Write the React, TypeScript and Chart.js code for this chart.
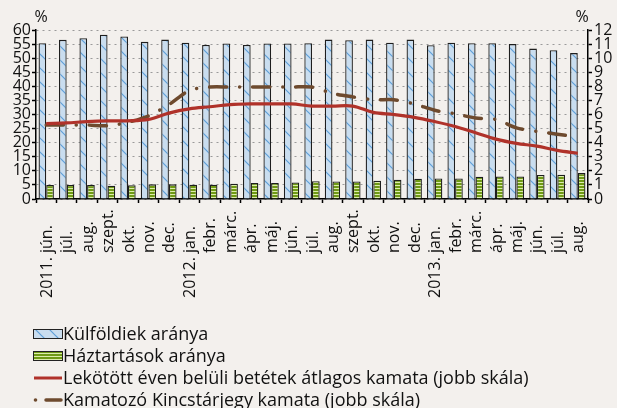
import React, { useEffect, useRef } from 'react';
import { Chart, registerables } from 'chart.js';

Chart.register(...registerables);

const categories = [
  '2011. jún.', 'júl.', 'aug.', 'szept.', 'okt.', 'nov.', 'dec.',
  '2012. jan.', 'febr.', 'márc.', 'ápr.', 'máj.', 'jún.', 'júl.', 'aug.', 'szept.', 'okt.', 'nov.', 'dec.',
  '2013. jan.', 'febr.', 'márc.', 'ápr.', 'máj.', 'jún.', 'júl.', 'aug.',
];

const foreignShare = [55.3, 56.5, 57.1, 58.3, 57.7, 55.8, 56.6, 55.5, 54.7, 55.2, 54.7, 55.2, 55.2, 55.3, 56.6, 56.4, 56.6, 55.5, 56.6, 54.6, 55.5, 55.3, 55.3, 55.0, 53.4, 52.8, 51.8];
const householdShare = [5.0, 5.0, 5.0, 4.7, 4.9, 5.2, 5.2, 5.1, 5.1, 5.4, 5.7, 5.7, 5.9, 6.3, 6.25, 6.25, 6.5, 6.8, 7.2, 7.3, 7.3, 7.9, 8.0, 8.0, 8.5, 8.6, 9.2];
const depositRate = [5.35, 5.4, 5.5, 5.55, 5.55, 5.65, 6.1, 6.4, 6.55, 6.7, 6.75, 6.75, 6.75, 6.6, 6.6, 6.6, 6.15, 6.0, 5.8, 5.5, 5.15, 4.7, 4.25, 3.95, 3.75, 3.45, 3.25];
const tbillRate = [5.25, 5.25, 5.25, 5.2, 5.45, 5.9, 6.7, 7.7, 7.95, 7.95, 7.95, 7.95, 7.95, 7.95, 7.5, 7.25, 7.05, 7.05, 6.75, 6.3, 6.05, 5.75, 5.65, 5.05, 4.8, 4.6, 4.4];

const seriesNames = [
  'Külföldiek aránya',
  'Háztartások aránya',
  'Lekötött éven belüli betétek átlagos kamata (jobb skála)',
  'Kamatozó Kincstárjegy kamata (jobb skála)',
];

const unitLabel = '%';

const FONT = '"Open Sans", "Noto Sans", sans-serif';
const BG = '#f3f0ed';
const RED = '#b0322a';
const BROWN = '#6e4a2e';

function bluePattern(ctx: CanvasRenderingContext2D): CanvasPattern | string {
  const c = document.createElement('canvas');
  c.width = 14;
  c.height = 14;
  const g = c.getContext('2d');
  if (!g) return '#c9ddef';
  g.fillStyle = '#c9ddef';
  g.fillRect(0, 0, 14, 14);
  g.strokeStyle = '#5e9fd8';
  g.lineWidth = 1.2;
  g.beginPath();
  g.moveTo(-2, -2);
  g.lineTo(16, 16);
  g.moveTo(-16, -2);
  g.lineTo(2, 16);
  g.moveTo(12, -2);
  g.lineTo(30, 16);
  g.stroke();
  return ctx.createPattern(c, 'repeat') || '#c9ddef';
}

function greenPattern(ctx: CanvasRenderingContext2D): CanvasPattern | string {
  const c = document.createElement('canvas');
  c.width = 4;
  c.height = 3;
  const g = c.getContext('2d');
  if (!g) return '#7aa31e';
  g.fillStyle = '#6f9a14';
  g.fillRect(0, 0, 4, 2);
  g.fillStyle = '#dcedaa';
  g.fillRect(0, 2, 4, 1);
  return ctx.createPattern(c, 'repeat') || '#7aa31e';
}

export default function App() {
  const ref = useRef<HTMLCanvasElement | null>(null);

  useEffect(() => {
    document.body.style.margin = '0';
    document.body.style.background = BG;
    const canvas = ref.current;
    if (!canvas) return;
    const ctx = canvas.getContext('2d');
    if (!ctx) return;
    const blue = bluePattern(ctx);
    const green = greenPattern(ctx);

    const extras = {
      id: 'extras',
      afterDraw(chart: any) {
        const c = chart.ctx as CanvasRenderingContext2D;
        const area = chart.chartArea;
        const xs = chart.scales.x;
        c.save();
        c.fillStyle = '#111';
        c.font = `16px ${FONT}`;
        c.textBaseline = 'middle';
        c.textAlign = 'center';
        c.fillText(unitLabel, area.left + 5, 17);
        c.fillText(unitLabel, area.right - 6, 17);

        // category labels (rotated, month part starting at a common line)
        c.font = `16px ${FONT}`;
        const startY = 253;
        categories.forEach((lab, i) => {
          const x = xs.getPixelForValue(i);
          const parts = lab.split(' ');
          const month = parts[parts.length - 1];
          const prefix = parts.length > 1 ? parts.slice(0, -1).join(' ') + ' ' : '';
          c.save();
          c.translate(x + 1, startY);
          c.rotate(-Math.PI / 2);
          c.textBaseline = 'middle';
          c.textAlign = 'left';
          c.fillText(month, 0, 0);
          if (prefix) {
            c.textAlign = 'right';
            c.fillText(prefix, 0, 0);
          }
          c.restore();
        });

        // legend
        const x0 = 33;
        const rows = [334, 356, 378, 400];
        c.fillStyle = blue as any;
        c.fillRect(x0, rows[0] - 4.5, 29, 9);
        c.strokeStyle = '#222';
        c.lineWidth = 1;
        c.strokeRect(x0 + 0.5, rows[0] - 4.5, 29, 9);
        c.fillStyle = green as any;
        c.fillRect(x0, rows[1] - 4.5, 29, 9);
        c.strokeRect(x0 + 0.5, rows[1] - 4.5, 29, 9);
        c.strokeStyle = RED;
        c.lineWidth = 3;
        c.beginPath();
        c.moveTo(x0 + 1, rows[2]);
        c.lineTo(x0 + 29, rows[2]);
        c.stroke();
        c.fillStyle = BROWN;
        c.beginPath();
        c.arc(x0 + 2.5, rows[3], 1.8, 0, Math.PI * 2);
        c.fill();
        c.strokeStyle = BROWN;
        c.lineWidth = 3.5;
        c.lineCap = 'round';
        c.beginPath();
        c.moveTo(x0 + 13, rows[3]);
        c.lineTo(x0 + 28, rows[3]);
        c.stroke();

        c.fillStyle = '#111';
        c.font = `18px ${FONT}`;
        c.textAlign = 'left';
        c.textBaseline = 'middle';
        seriesNames.forEach((name, i) => {
          c.fillText(name, x0 + 30, rows[i] + 1);
        });
        c.restore();
      },
    };

    const chart = new Chart(ctx, {
      type: 'bar',
      data: {
        labels: categories,
        datasets: [
          {
            type: 'line',
            label: seriesNames[2],
            data: depositRate,
            yAxisID: 'y1',
            borderColor: RED,
            borderWidth: 3.2,
            pointRadius: 0,
            tension: 0.35,
            fill: false,
            order: 0,
          },
          {
            type: 'line',
            label: seriesNames[3],
            data: tbillRate,
            yAxisID: 'y1',
            borderColor: BROWN,
            borderWidth: 3.5,
            borderDash: [17, 13, 0.1, 13],
            borderCapStyle: 'round',
            pointRadius: 0,
            tension: 0.3,
            fill: false,
            order: 0,
          },
          {
            type: 'bar',
            label: seriesNames[0],
            data: foreignShare,
            yAxisID: 'y',
            backgroundColor: blue as any,
            borderColor: '#1e1e1e',
            borderWidth: 1.3,
            categoryPercentage: 0.75,
            barPercentage: 1,
            order: 1,
          },
          {
            type: 'bar',
            label: seriesNames[1],
            data: householdShare,
            yAxisID: 'y',
            backgroundColor: green as any,
            borderColor: '#1e1e1e',
            borderWidth: 1.3,
            categoryPercentage: 0.75,
            barPercentage: 1,
            order: 1,
          },
        ] as any,
      },
      options: {
        responsive: false,
        animation: false,
        devicePixelRatio: 1,
        layout: { padding: { top: 30, left: 0, right: 0, bottom: 0 } },
        plugins: {
          legend: { display: false },
          tooltip: { enabled: false },
          title: { display: false },
        },
        scales: {
          x: {
            offset: true,
            grid: {
              offset: true,
              drawOnChartArea: false,
              drawTicks: true,
              tickLength: 4,
              tickColor: '#000',
              tickWidth: 1.5,
            },
            border: { color: '#000', width: 1.5 },
            ticks: {
              display: false,
              autoSkip: false,
              maxRotation: 0,
              minRotation: 0,
            },
            afterFit: (s: any) => {
              s.height = 209;
            },
          },
          y: {
            position: 'left',
            min: 0,
            max: 60,
            ticks: {
              stepSize: 5,
              autoSkip: false,
              padding: 1,
              color: '#111',
              font: { family: FONT, size: 16 },
            },
            grid: {
              color: '#9a9a9a',
              lineWidth: 1,
              drawTicks: true,
              tickLength: 4,
              tickColor: '#000',
              tickWidth: 1.5,
            },
            border: { color: '#000', width: 1.5, dash: [2, 4] },
            afterFit: (s: any) => {
              s.width = 36;
            },
          },
          y1: {
            position: 'right',
            min: 0,
            max: 12,
            ticks: {
              stepSize: 1,
              autoSkip: false,
              padding: 2,
              color: '#111',
              font: { family: FONT, size: 16 },
            },
            grid: {
              drawOnChartArea: false,
              drawTicks: true,
              tickLength: 4,
              tickColor: '#000',
              tickWidth: 1.5,
            },
            border: { color: '#000', width: 1.5 },
            afterFit: (s: any) => {
              s.width = 29;
            },
          },
        },
      } as any,
      plugins: [extras],
    });

    return () => {
      chart.destroy();
    };
  }, []);

  return (
    <div style={{ width: 617, height: 408, background: BG, position: 'relative' }}>
      <canvas ref={ref} width={617} height={408} style={{ display: 'block', width: 617, height: 408 }} />
    </div>
  );
}
